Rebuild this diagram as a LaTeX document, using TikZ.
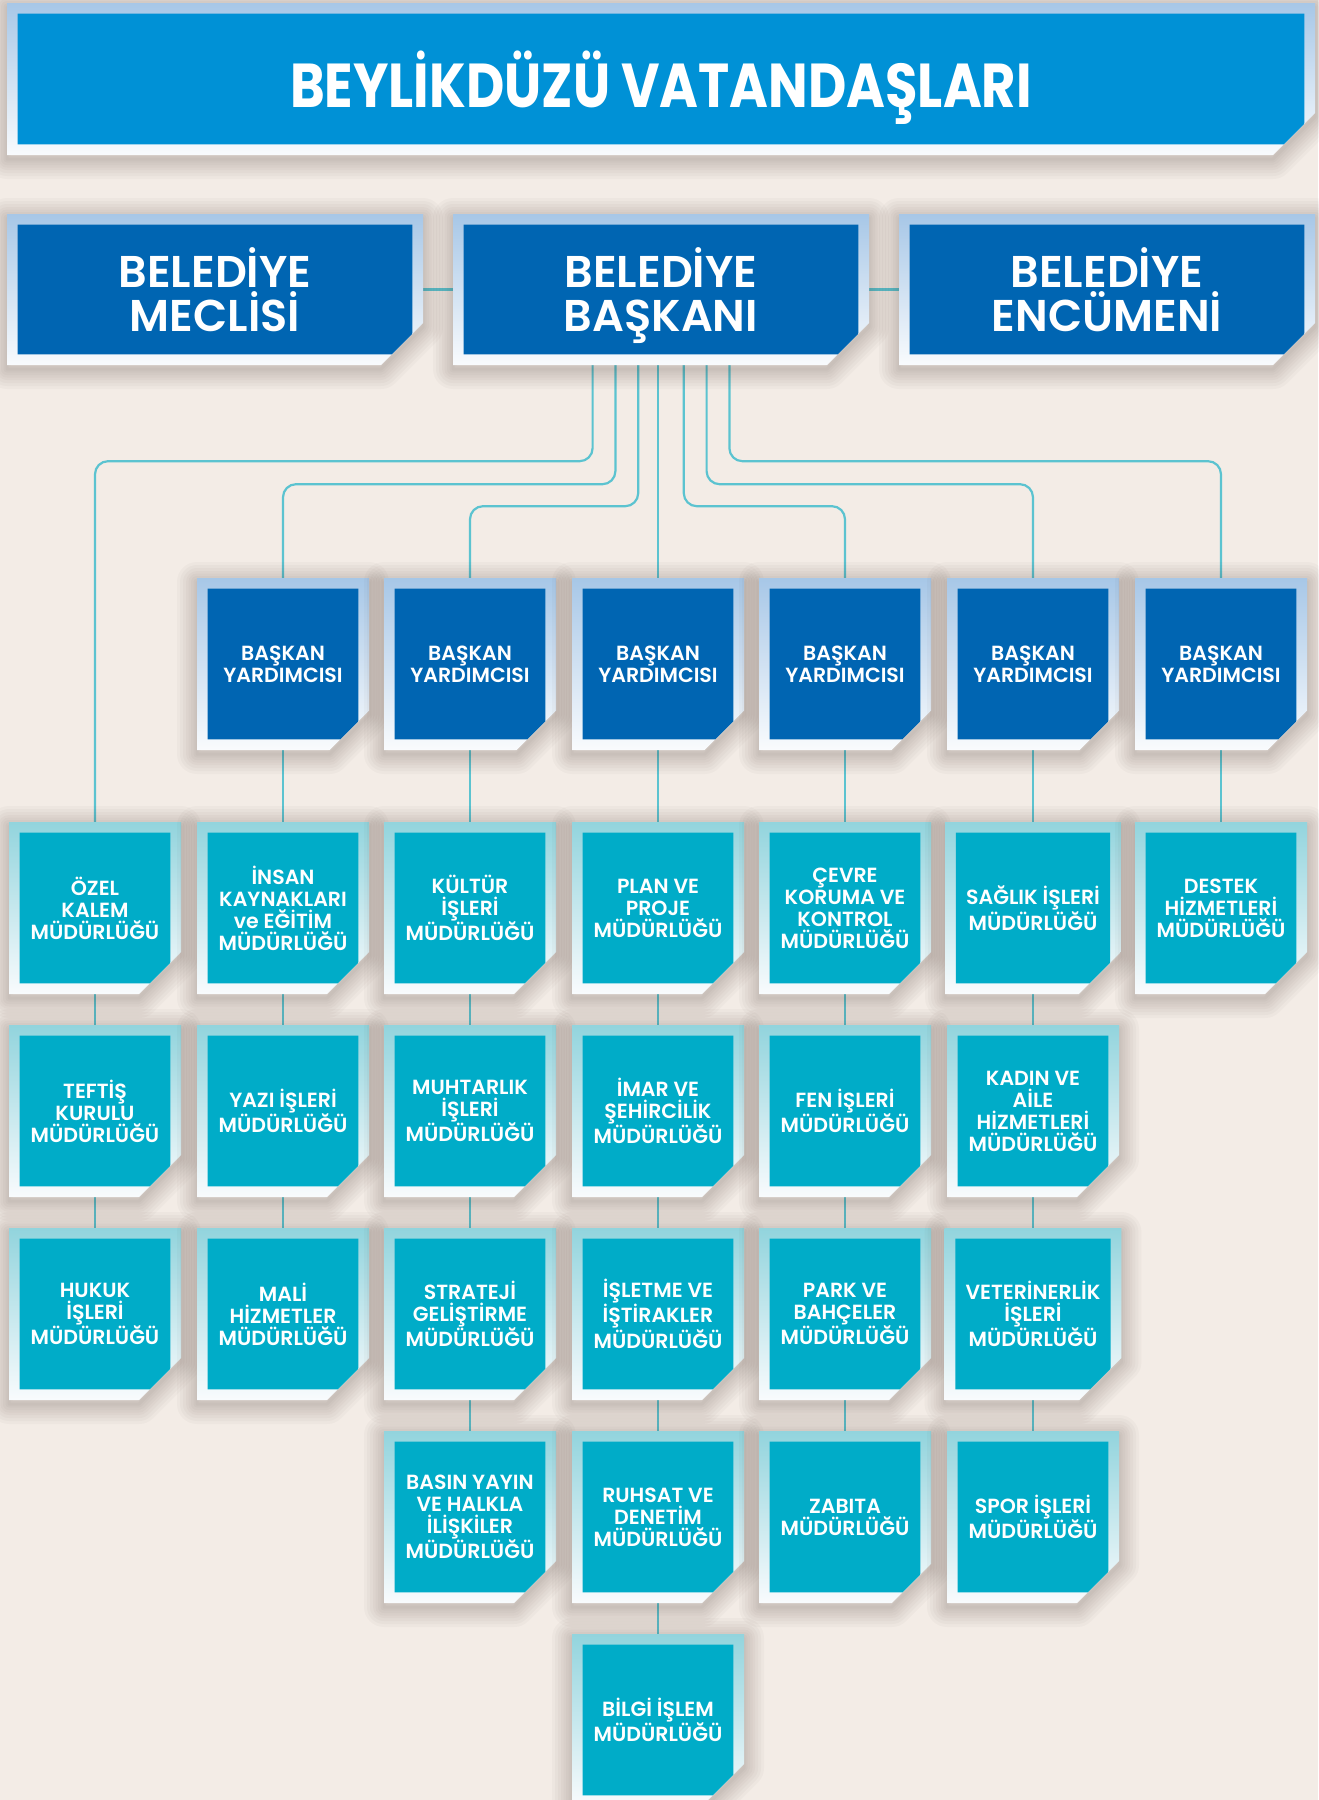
\documentclass[tikz,border=0pt]{standalone}
\usepackage{fontspec}
\setmainfont{Poppins}
\newfontfamily\headfont[FakeStretch=0.85]{Poppins}
\newfontfamily\boxfont{Poppins SemiBold}
\usetikzlibrary{positioning,calc,shapes.misc}
\definecolor{bgcream}{HTML}{F3ECE6}
\definecolor{titleblue}{HTML}{0091D6}
\definecolor{navyblue}{HTML}{0065B2}
\definecolor{officeteal}{HTML}{00ACC8}
\definecolor{framesky}{HTML}{A7C7E7}
\definecolor{frameaqua}{HTML}{92D4DD}
\definecolor{framewhite}{HTML}{F9FBFD}
\definecolor{linkteal}{HTML}{5BC3D0}
\definecolor{shadowtone}{HTML}{4A3A32}
\pgfdeclarelayer{back}
\pgfdeclarelayer{wires}
\pgfsetlayers{back,wires,main}

\begin{document}
\begin{tikzpicture}[x=1pt, y=-1pt,
    innerfill/.style={path picture={
        \fill[#1] ($(path picture bounding box.north west)+(10.7pt,-10.7pt)$)
          -- ($(path picture bounding box.north east)+(-10.7pt,-10.7pt)$)
          -- ($(path picture bounding box.south east)+(-10.7pt,26pt)$)
          -- ($(path picture bounding box.south east)+(-26pt,10.7pt)$)
          -- ($(path picture bounding box.south west)+(10.7pt,10.7pt)$) -- cycle;}},
    halo/.style={preaction={draw=shadowtone, line width=#1, draw opacity=0.03,
        line join=round, transform canvas={yshift=-4pt}}},
    boxbase/.style={chamfered rectangle, chamfered rectangle corners=south east,
        chamfered rectangle sep=21pt, inner sep=0pt, text=white, align=center,
        halo=40pt, halo=34pt, halo=28pt, halo=22pt, halo=17pt, halo=12pt, halo=7pt, halo=3pt},
    headbox/.style={boxbase, top color=framesky, bottom color=framewhite, innerfill=titleblue,
        minimum width=1308pt, minimum height=152pt,
        font=\headfont\bfseries\fontsize{62}{70}\selectfont},
    chiefbox/.style={boxbase, top color=framesky, bottom color=framewhite, innerfill=navyblue,
        minimum width=416pt, minimum height=151pt,
        font=\boxfont\fontsize{44.5}{44}\selectfont},
    deputybox/.style={boxbase, top color=framesky, bottom color=framewhite, innerfill=navyblue,
        minimum width=172pt, minimum height=172pt,
        font=\boxfont\fontsize{20.5}{22}\selectfont},
    officebox/.style={boxbase, top color=frameaqua, bottom color=framewhite, innerfill=officeteal,
        minimum width=172pt, minimum height=172pt,
        font=\boxfont\fontsize{20.5}{22}\selectfont},
    link/.style={draw=linkteal, line width=2.2pt, rounded corners=13pt}]

    \useasboundingbox (0,0) rectangle (1318,1800);
    \begin{pgfonlayer}{back}
        \fill[bgcream] (0,0) rectangle (1318,1800);
    \end{pgfonlayer}

    % Top
    \node[headbox] (citizens) at (661,79) {BEYLİKDÜZÜ VATANDA\smash{Ş}LARI};
    \node[chiefbox] (meclis) at (215,289.5) {BELEDİYE\\MECLİSİ};
    \node[chiefbox] (baskan) at (661,289.5) {BELEDİYE\\BA\smash{Ş}KANI};
    \node[chiefbox] (encumen) at (1107,289.5) {BELEDİYE\\ENCÜMENİ};

    % Deputies
    \node[deputybox] (dep1) at (283,664) {BAŞKAN\\YARDIMCISI};
    \node[deputybox] (dep2) at (470,664) {BAŞKAN\\YARDIMCISI};
    \node[deputybox] (dep3) at (658,664) {BAŞKAN\\YARDIMCISI};
    \node[deputybox] (dep4) at (845,664) {BAŞKAN\\YARDIMCISI};
    \node[deputybox] (dep5) at (1033,664) {BAŞKAN\\YARDIMCISI};
    \node[deputybox] (dep6) at (1221,664) {BAŞKAN\\YARDIMCISI};

    % Column 0
    \node[officebox] (ozel) at (95,908) {ÖZEL\\KALEM\\MÜDÜRLÜĞÜ};
    \node[officebox] (teftis) at (95,1111) {TEFTİŞ\\KURULU\\MÜDÜRLÜĞÜ};
    \node[officebox] (hukuk) at (95,1314) {HUKUK\\İŞLERİ\\MÜDÜRLÜĞÜ};

    % Column 1
    \node[officebox] (insan) at (283,908) {İNSAN\\KAYNAKLARI\\ve EĞİTİM\\MÜDÜRLÜĞÜ};
    \node[officebox] (yazi) at (283,1111) {YAZI İŞLERİ\\MÜDÜRLÜĞÜ};
    \node[officebox] (mali) at (283,1314) {MALİ\\HİZMETLER\\MÜDÜRLÜĞÜ};

    % Column 2
    \node[officebox] (kultur) at (470,908) {KÜLTÜR\\İŞLERİ\\MÜDÜRLÜĞÜ};
    \node[officebox] (muhtar) at (470,1111) {MUHTARLIK\\İŞLERİ\\MÜDÜRLÜĞÜ};
    \node[officebox] (strateji) at (470,1314) {STRATEJİ\\GELİŞTİRME\\MÜDÜRLÜĞÜ};
    \node[officebox] (basin) at (470,1517) {BASIN YAYIN\\VE HALKLA\\İLİŞKİLER\\MÜDÜRLÜĞÜ};

    % Column 3
    \node[officebox] (plan) at (658,908) {PLAN VE\\PROJE\\MÜDÜRLÜĞÜ};
    \node[officebox] (imar) at (658,1111) {İMAR VE\\ŞEHİRCİLİK\\MÜDÜRLÜĞÜ};
    \node[officebox] (isletme) at (658,1314) {İŞLETME VE\\İŞTİRAKLER\\MÜDÜRLÜĞÜ};
    \node[officebox] (ruhsat) at (658,1517) {RUHSAT VE\\DENETİM\\MÜDÜRLÜĞÜ};
    \node[officebox] (bilgi) at (658,1720) {BİLGİ İŞLEM\\MÜDÜRLÜĞÜ};

    % Column 4
    \node[officebox] (cevre) at (845,908) {ÇEVRE\\KORUMA VE\\KONTROL\\MÜDÜRLÜĞÜ};
    \node[officebox] (fen) at (845,1111) {FEN İŞLERİ\\MÜDÜRLÜĞÜ};
    \node[officebox] (park) at (845,1314) {PARK VE\\BAHÇELER\\MÜDÜRLÜĞÜ};
    \node[officebox] (zabita) at (845,1517) {ZABITA\\MÜDÜRLÜĞÜ};

    % Column 5
    \node[officebox] (saglik) at (1033,908) {SAĞLIK İŞLERİ\\MÜDÜRLÜĞÜ};
    \node[officebox] (kadin) at (1033,1111) {KADIN VE\\AİLE\\HİZMETLERİ\\MÜDÜRLÜĞÜ};
    \node[officebox] (veteriner) at (1033,1314) {VETERİNERLİK\\İŞLERİ\\MÜDÜRLÜĞÜ};
    \node[officebox] (spor) at (1033,1517) {SPOR İŞLERİ\\MÜDÜRLÜĞÜ};

    % Column 6
    \node[officebox] (destek) at (1221,908) {DESTEK\\HİZMETLERİ\\MÜDÜRLÜĞÜ};

    \begin{pgfonlayer}{wires}
        % Top row
        \draw[link] (meclis.east) -- (baskan.west);
        \draw[link] (baskan.east) -- (encumen.west);

        % From the mayor
        \draw[link] ([xshift=-68.4pt]baskan.south) -- ++(0,96) -| (ozel.north);
        \draw[link] ([xshift=-45.6pt]baskan.south) -- ++(0,119) -| (dep1.north);
        \draw[link] ([xshift=-22.8pt]baskan.south) -- ++(0,141) -| (dep2.north);
        \draw[link] (dep3.north |- baskan.south) -- (dep3.north);
        \draw[link] ([xshift=22.8pt]baskan.south) -- ++(0,141) -| (dep4.north);
        \draw[link] ([xshift=45.6pt]baskan.south) -- ++(0,119) -| (dep5.north);
        \draw[link] ([xshift=68.4pt]baskan.south) -- ++(0,96) -| (dep6.north);

        % Columns
        \draw[link] (ozel.south) -- (teftis.north);
        \draw[link] (teftis.south) -- (hukuk.north);
        \draw[link] (dep1.south) -- (insan.north);
        \draw[link] (insan.south) -- (yazi.north);
        \draw[link] (yazi.south) -- (mali.north);
        \draw[link] (dep2.south) -- (kultur.north);
        \draw[link] (kultur.south) -- (muhtar.north);
        \draw[link] (muhtar.south) -- (strateji.north);
        \draw[link] (strateji.south) -- (basin.north);
        \draw[link] (dep3.south) -- (plan.north);
        \draw[link] (plan.south) -- (imar.north);
        \draw[link] (imar.south) -- (isletme.north);
        \draw[link] (isletme.south) -- (ruhsat.north);
        \draw[link] (ruhsat.south) -- (bilgi.north);
        \draw[link] (dep4.south) -- (cevre.north);
        \draw[link] (cevre.south) -- (fen.north);
        \draw[link] (fen.south) -- (park.north);
        \draw[link] (park.south) -- (zabita.north);
        \draw[link] (dep5.south) -- (saglik.north);
        \draw[link] (saglik.south) -- (kadin.north);
        \draw[link] (kadin.south) -- (veteriner.north);
        \draw[link] (veteriner.south) -- (spor.north);
        \draw[link] (dep6.south) -- (destek.north);
    \end{pgfonlayer}
\end{tikzpicture}
\end{document}
